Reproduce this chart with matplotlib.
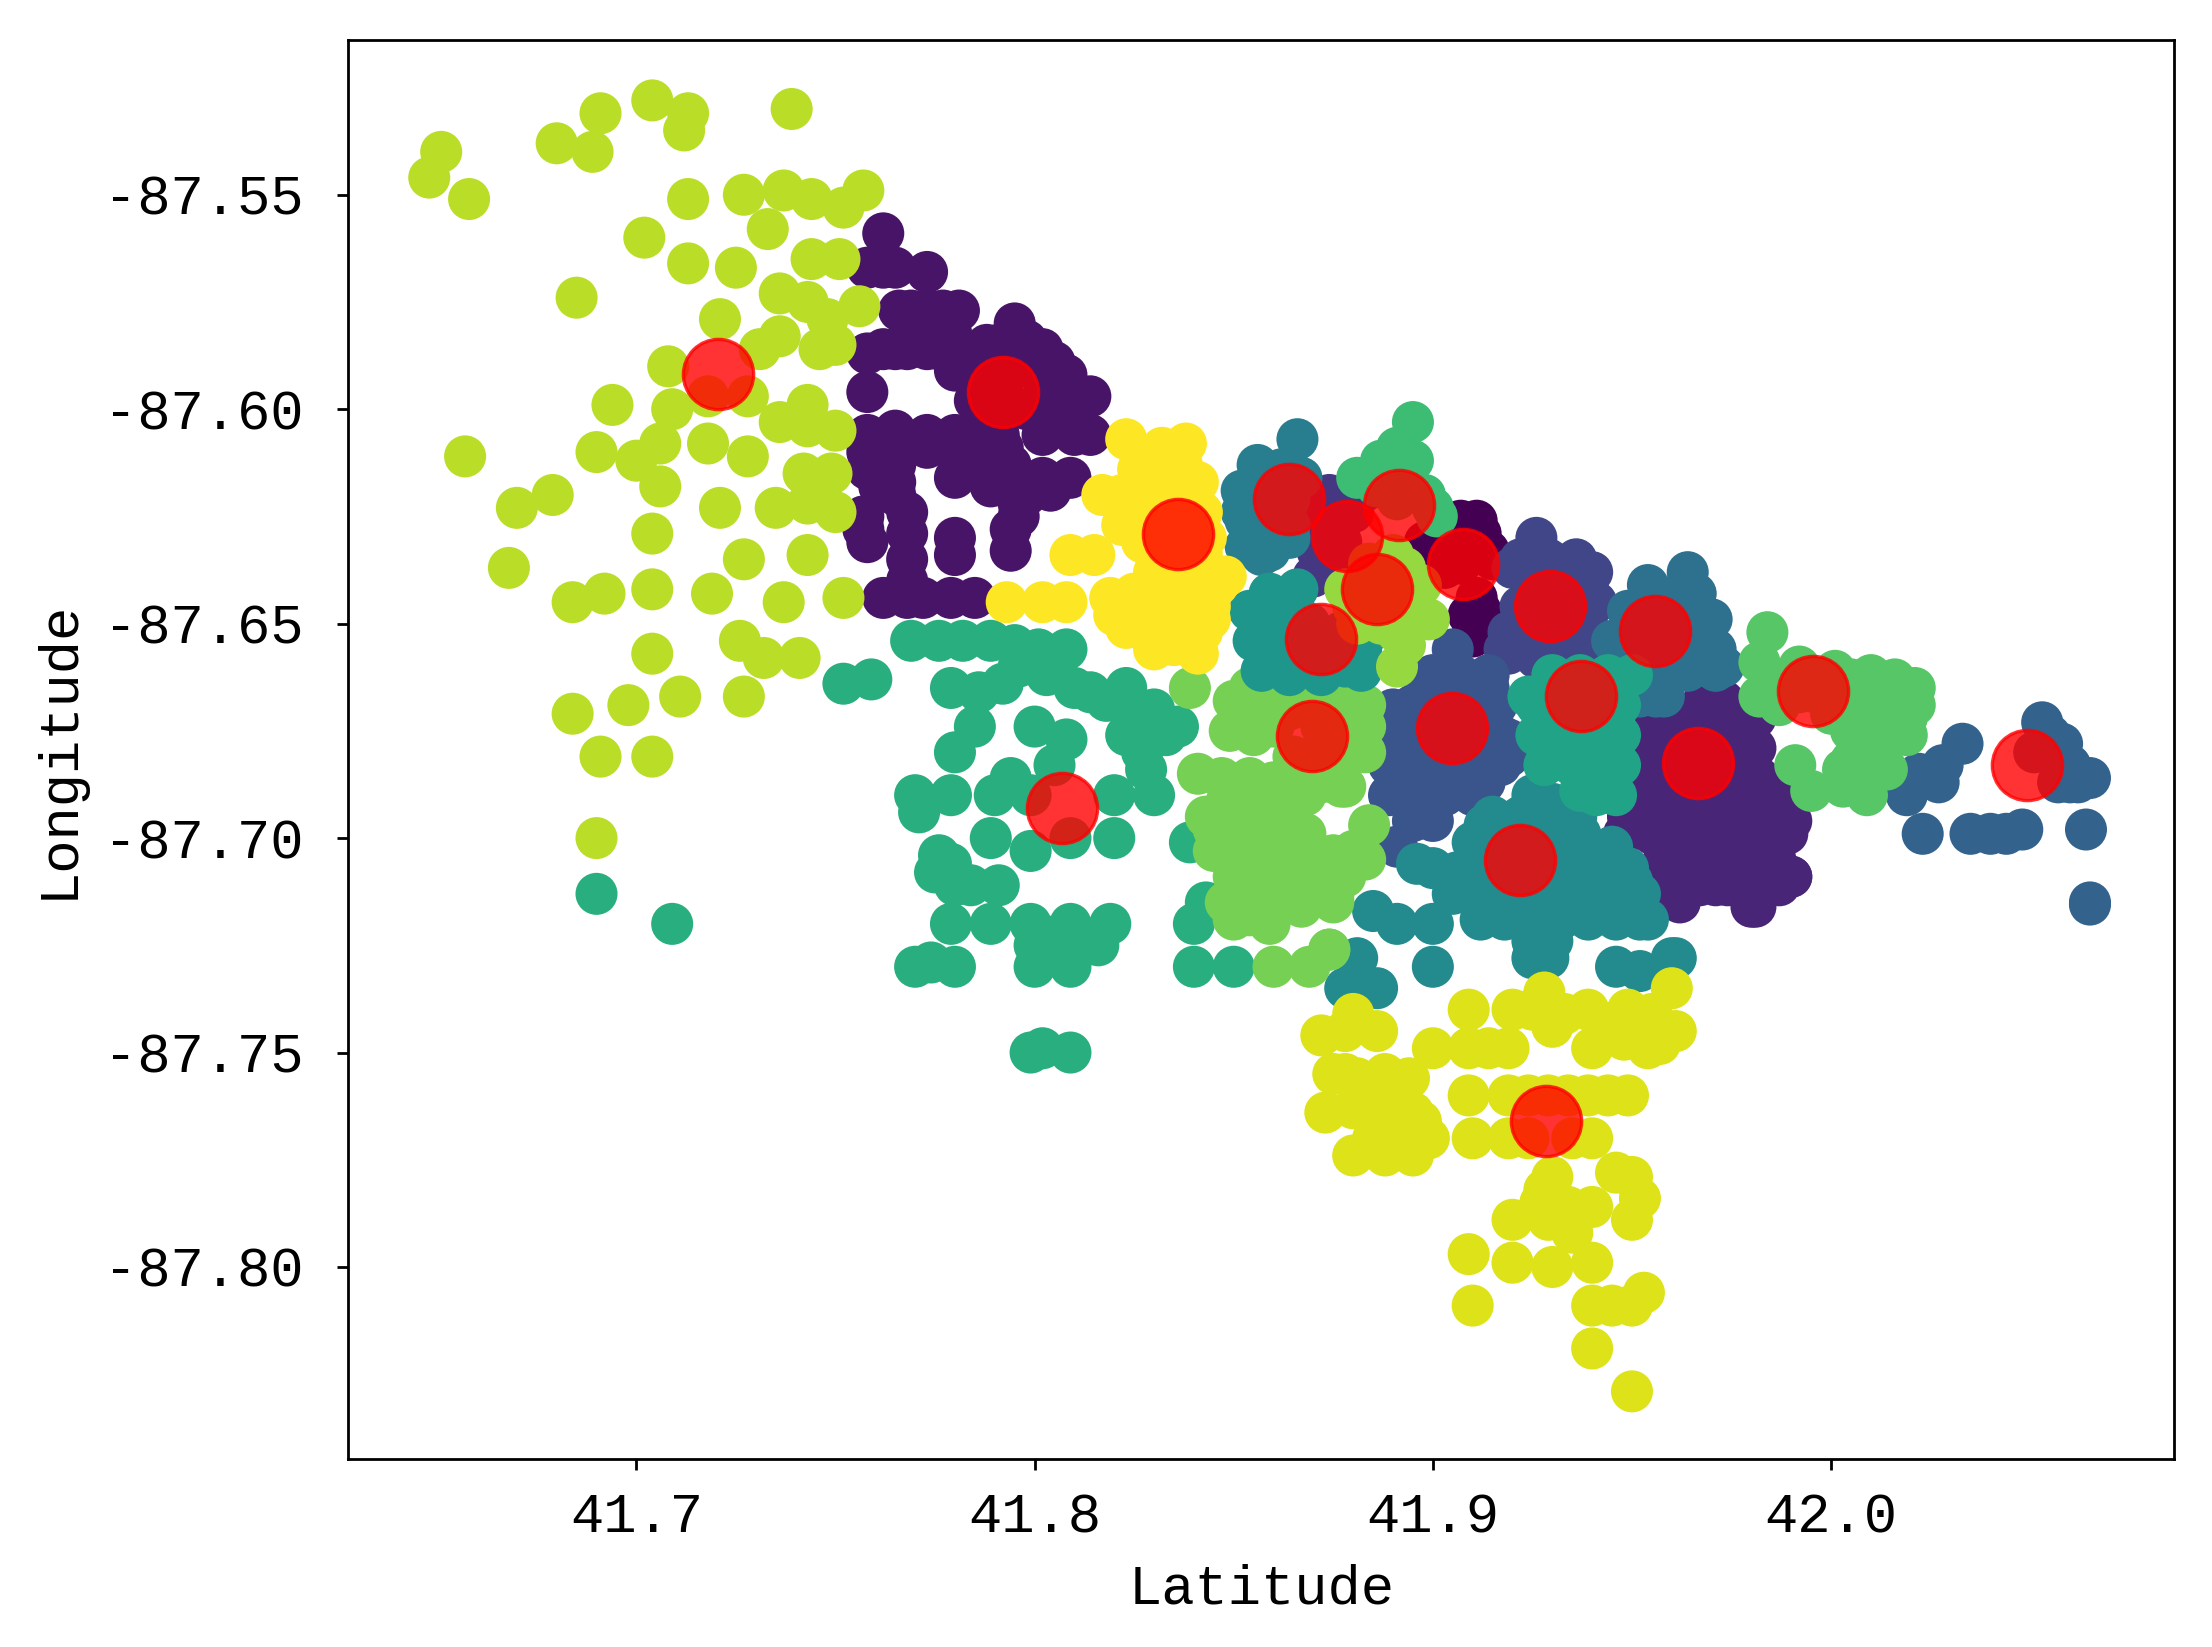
import matplotlib
matplotlib.use('Agg')
import matplotlib.pyplot as plt
import numpy as np

# every cluster is a list of (latitude, longitude)
c0 = [(41.911,-87.626),(41.907,-87.626),(41.898,-87.631),(41.914,-87.633),(41.907,-87.636),(41.910,-87.650),(41.910,-87.653),(41.909,-87.648),
      (41.905,-87.631),(41.912,-87.629),(41.915,-87.635),(41.903,-87.637),(41.911,-87.644),(41.911,-87.650),(41.912,-87.647)]
c1 = [(41.762,-87.559),(41.758,-87.567),(41.765,-87.567),(41.773,-87.568),(41.766,-87.577),(41.773,-87.577),(41.781,-87.577),
      (41.758,-87.587),(41.765,-87.586),(41.773,-87.586),(41.780,-87.586),(41.780,-87.591),(41.795,-87.580),(41.788,-87.585),
      (41.795,-87.586),(41.802,-87.586),(41.808,-87.592),(41.814,-87.597),(41.802,-87.593),(41.808,-87.599),(41.788,-87.592),
      (41.792,-87.596),(41.758,-87.596),(41.758,-87.606),(41.765,-87.605),(41.773,-87.606),(41.780,-87.606),(41.786,-87.604),
      (41.791,-87.606),(41.803,-87.602),(41.802,-87.606),(41.810,-87.606),(41.814,-87.606),(41.758,-87.614),(41.765,-87.613),
      (41.780,-87.616),(41.786,-87.613),(41.794,-87.613),(41.802,-87.616),(41.809,-87.616),(41.795,-87.618),(41.765,-87.620),
      (41.757,-87.625),(41.768,-87.629),(41.758,-87.631),(41.780,-87.630),(41.780,-87.634),(41.768,-87.635),(41.796,-87.625),
      (41.794,-87.633),(41.762,-87.644),(41.768,-87.644),(41.779,-87.644),(41.785,-87.644),
      (41.762,-87.567),(41.769,-87.577),(41.777,-87.577),(41.779,-87.582),(41.770,-87.582),(41.762,-87.586),(41.768,-87.586),
      (41.776,-87.586),(41.784,-87.588),(41.791,-87.585),(41.798,-87.590),(41.805,-87.589),(41.798,-87.584),(41.811,-87.598),
      (41.785,-87.598),(41.805,-87.597),(41.811,-87.604),(41.805,-87.603),(41.798,-87.600),(41.791,-87.602),(41.786,-87.609),
      (41.780,-87.610),(41.773,-87.609),(41.765,-87.609),(41.758,-87.610),(41.761,-87.618),(41.765,-87.617),(41.781,-87.612),
      (41.792,-87.609),(41.789,-87.618),(41.798,-87.620),(41.804,-87.619),(41.796,-87.622),(41.794,-87.628),(41.768,-87.624),
      (41.757,-87.628),(41.768,-87.640),(41.772,-87.644)]
c2 = [(41.968,-87.668),(41.973,-87.668),(41.955,-87.677),(41.966,-87.678),(41.979,-87.678),(41.956,-87.685),(41.966,-87.683),
      (41.980,-87.685),(41.949,-87.695),(41.958,-87.695),(41.970,-87.695),(41.981,-87.695),(41.988,-87.697),(41.961,-87.706),
      (41.971,-87.706),(41.981,-87.710),(41.990,-87.709),(41.962,-87.715),(41.980,-87.716),(41.950,-87.690),(41.988,-87.689),
      (41.980,-87.678),(41.990,-87.696),(41.990,-87.709),(41.981,-87.716),(41.971,-87.711),(41.971,-87.667),
      (41.956,-87.672),(41.963,-87.672),(41.970,-87.672),(41.977,-87.672),(41.981,-87.672),(41.956,-87.679),(41.963,-87.679),
      (41.970,-87.679),(41.977,-87.679),(41.981,-87.679),(41.963,-87.686),(41.970,-87.686),(41.977,-87.686),(41.982,-87.686),
      (41.950,-87.692),(41.957,-87.692),(41.964,-87.692),(41.971,-87.692),(41.978,-87.692),(41.985,-87.692),(41.948,-87.699),
      (41.955,-87.699),(41.962,-87.699),(41.969,-87.699),(41.976,-87.699),(41.983,-87.699),(41.989,-87.699),(41.958,-87.705),
      (41.965,-87.705),(41.972,-87.705),(41.979,-87.705),(41.986,-87.705),(41.960,-87.711),(41.967,-87.711),(41.974,-87.711),
      (41.981,-87.711),(41.987,-87.711)]
c3 = [(41.874,-87.620),(41.870,-87.639),(41.871,-87.633),(41.880,-87.624),(41.877,-87.631),(41.878,-87.620),(41.870,-87.631),
      (41.876,-87.626),(41.872,-87.626),(41.883,-87.619),(41.874,-87.636)]
c4 = [(41.926,-87.630),(41.920,-87.637),(41.934,-87.637),(41.940,-87.638),(41.922,-87.646),(41.929,-87.646),(41.939,-87.646),
      (41.919,-87.652),(41.926,-87.658),(41.939,-87.651),(41.934,-87.652),(41.918,-87.656),
      (41.922,-87.635),(41.929,-87.635),(41.936,-87.635),(41.925,-87.640),(41.932,-87.640),(41.939,-87.640),(41.936,-87.645),
      (41.941,-87.645),(41.926,-87.651),(41.933,-87.651),(41.919,-87.657),(41.933,-87.657),(41.938,-87.657)]
c5 = [(41.907,-87.667),(41.914,-87.665),(41.898,-87.665),(41.890,-87.670),(41.905,-87.675),(41.914,-87.670),(41.919,-87.677),
      (41.893,-87.677),(41.891,-87.688),(41.902,-87.685),(41.913,-87.687),(41.919,-87.681),(41.900,-87.696),(41.891,-87.702),
      (41.895,-87.696),(41.905,-87.656),
      (41.900,-87.662),(41.907,-87.662),(41.914,-87.662),(41.895,-87.669),(41.902,-87.669),(41.909,-87.669),(41.916,-87.669),
      (41.889,-87.676),(41.896,-87.676),(41.903,-87.676),(41.910,-87.676),(41.917,-87.676),(41.889,-87.683),(41.896,-87.683),
      (41.903,-87.683),(41.910,-87.683),(41.917,-87.683),(41.889,-87.690),(41.896,-87.690),(41.903,-87.690),(41.910,-87.690)]
c6 = [(42.033,-87.678),(42.028,-87.683),(42.022,-87.685),(42.019,-87.690),(42.053,-87.673),(42.058,-87.678),(42.051,-87.680),
      (42.065,-87.686),(42.057,-87.687),(42.023,-87.699),(42.035,-87.699),(42.040,-87.699),(42.048,-87.698),(42.064,-87.698),
      (42.065,-87.715),(42.065,-87.7155),(42.027,-87.687),(42.060,-87.683),(42.062,-87.687),(42.044,-87.699),(42.055,-87.676),(42.060,-87.687)]
c7 = [(41.964,-87.638),(41.954,-87.641),(41.949,-87.647),(41.965,-87.647),(41.970,-87.649),(41.971,-87.656),(41.973,-87.660),
      (41.956,-87.652),(41.947,-87.655),(41.956,-87.667),(41.955,-87.663),(41.962,-87.661),
      (41.955,-87.643),(41.962,-87.643),(41.966,-87.643),(41.950,-87.649),(41.957,-87.649),(41.964,-87.649),(41.948,-87.655),
      (41.955,-87.655),(41.962,-87.655),(41.969,-87.655),(41.957,-87.661),(41.964,-87.661),(41.971,-87.661),(41.952,-87.667),
      (41.958,-87.667),(41.945,-87.654)]
c8 = [(41.866,-87.607),(41.856,-87.613),(41.867,-87.616),(41.852,-87.619),(41.859,-87.619),(41.853,-87.626),(41.864,-87.621),
      (41.853,-87.632),(41.857,-87.634),(41.861,-87.629),(41.862,-87.614),(41.857,-87.622),(41.852,-87.624),(41.858,-87.627),
      (41.864,-87.627),(41.854,-87.630),(41.859,-87.633),(41.864,-87.630)]
c9 = [(41.925,-87.690),(41.930,-87.692),(41.913,-87.697),(41.924,-87.699),(41.937,-87.699),(41.945,-87.702),(41.896,-87.706),
      (41.906,-87.708),(41.923,-87.705),(41.935,-87.708),(41.950,-87.710),(41.912,-87.715),(41.925,-87.715),(41.945,-87.715),
      (41.954,-87.719),(41.885,-87.717),(41.891,-87.720),(41.900,-87.720),(41.881,-87.728),(41.878,-87.735),(41.886,-87.735),
      (41.900,-87.730),(41.925,-87.728),(41.929,-87.728),(41.946,-87.730),(41.952,-87.731),(41.960,-87.728),(41.961,-87.728),
      (41.915,-87.695),(41.922,-87.695),(41.929,-87.695),(41.936,-87.695),(41.910,-87.701),(41.917,-87.701),(41.931,-87.701),
      (41.938,-87.701),(41.900,-87.707),(41.914,-87.707),(41.921,-87.707),(41.928,-87.707),(41.942,-87.707),(41.949,-87.707),
      (41.905,-87.713),(41.919,-87.713),(41.933,-87.713),(41.940,-87.713),(41.947,-87.713),(41.952,-87.713),(41.912,-87.719),
      (41.918,-87.719),(41.925,-87.719),(41.932,-87.719),(41.939,-87.719),(41.946,-87.719),(41.952,-87.719),(41.925,-87.724),
      (41.930,-87.724)]
c10 = [(41.859,-87.643),(41.854,-87.647),(41.863,-87.647),(41.855,-87.654),(41.863,-87.652),(41.872,-87.654),(41.858,-87.660),
       (41.872,-87.660),(41.857,-87.661),(41.872,-87.662),(41.882,-87.656),(41.878,-87.660),(41.864,-87.651),
       (41.866,-87.642),(41.866,-87.648),(41.859,-87.650),(41.869,-87.650),(41.877,-87.652),(41.860,-87.656),(41.866,-87.658),
       (41.878,-87.655),(41.884,-87.652),(41.864,-87.662),(41.882,-87.661)]
c11 = [(41.937,-87.662),(41.948,-87.663),(41.924,-87.667),(41.933,-87.669),(41.945,-87.673),(41.929,-87.677),(41.945,-87.681),
       (41.931,-87.681),(41.937,-87.689),(41.945,-87.685),
       (41.930,-87.662),(41.944,-87.662),(41.950,-87.662),(41.926,-87.669),(41.940,-87.669),(41.947,-87.669),(41.926,-87.676),
       (41.933,-87.676),(41.940,-87.676),(41.947,-87.676),(41.928,-87.683),(41.935,-87.683),(41.942,-87.683),(41.947,-87.683),
       (41.941,-87.690),(41.946,-87.690)]
c12 = [(41.769,-87.654),(41.776,-87.654),(41.782,-87.654),(41.789,-87.654),(41.795,-87.655),(41.801,-87.656),(41.808,-87.656),
       (41.803,-87.662),(41.810,-87.665),(41.814,-87.666),(41.823,-87.665),(41.830,-87.670),(41.779,-87.665),(41.786,-87.666),
       (41.792,-87.664),(41.785,-87.674),(41.780,-87.680),(41.800,-87.674),(41.808,-87.677),(41.823,-87.676),(41.833,-87.676),
       (41.827,-87.680),(41.805,-87.683),(41.794,-87.686),(41.770,-87.690),(41.771,-87.694),(41.779,-87.690),(41.790,-87.690),
       (41.799,-87.690),(41.820,-87.690),(41.830,-87.690),(41.789,-87.700),(41.799,-87.703),(41.809,-87.700),(41.820,-87.700),
       (41.839,-87.701),(41.779,-87.706),(41.775,-87.708),(41.780,-87.711),(41.791,-87.711),(41.779,-87.720),(41.789,-87.720),
       (41.799,-87.720),(41.809,-87.720),(41.819,-87.720),(41.816,-87.725),(41.800,-87.730),(41.809,-87.730),(41.770,-87.730),
       (41.774,-87.729),(41.780,-87.730),(41.840,-87.720),(41.840,-87.730),(41.850,-87.730),(41.843,-87.715),(41.809,-87.750),
       (41.799,-87.750),(41.802,-87.749),(41.804,-87.723),(41.752,-87.664),(41.759,-87.663),(41.690,-87.713),(41.709,-87.720),
       (41.826,-87.671),(41.836,-87.674),(41.828,-87.684),(41.796,-87.660),(41.818,-87.668),(41.800,-87.725),(41.810,-87.726),
       (41.812,-87.723),(41.784,-87.711),(41.776,-87.704)]
c13 = [(41.895,-87.603),(41.891,-87.609),(41.887,-87.612),(41.881,-87.616),(41.892,-87.616),(41.900,-87.623),(41.891,-87.621),
       (41.886,-87.618),(41.895,-87.612),(41.898,-87.620),(41.901,-87.625),(41.884,-87.616)]
c14 = [(41.984,-87.652),(41.982,-87.659),(41.992,-87.660),(42.001,-87.661),(42.010,-87.662),(42.021,-87.665),(41.982,-87.667),
       (41.992,-87.666),(42.002,-87.667),(42.011,-87.668),(42.021,-87.669),(42.019,-87.672),(41.996,-87.666),(42.005,-87.675),
       (42.014,-87.674),(42.019,-87.676),(41.991,-87.683),(41.995,-87.689),(42.003,-87.688),(42.009,-87.690),(42.010,-87.682),
       (42.005,-87.682),(41.987,-87.663),(41.997,-87.663),(42.005,-87.663),(42.016,-87.663),(41.987,-87.669),(42.000,-87.671),
       (42.007,-87.671),(42.014,-87.671),(42.008,-87.677),(42.014,-87.677),(42.003,-87.684),(42.014,-87.684)]
c15 = [(41.839,-87.665),(41.849,-87.675),(41.855,-87.676),(41.841,-87.685),(41.847,-87.686),(41.854,-87.686),(41.843,-87.695),
       (41.852,-87.695),(41.860,-87.695),(41.868,-87.690),(41.868,-87.699),(41.877,-87.688),(41.849,-87.704),(41.858,-87.704),
       (41.867,-87.705),(41.875,-87.704),(41.848,-87.715),(41.859,-87.715),(41.875,-87.715),(41.850,-87.719),(41.859,-87.720),
       (41.860,-87.730),(41.869,-87.730),(41.874,-87.726),(41.854,-87.665),(41.864,-87.667),(41.873,-87.667),(41.883,-87.669),
       (41.883,-87.680),(41.870,-87.665),(41.864,-87.670),(41.878,-87.688),(41.884,-87.697),(41.873,-87.706),(41.883,-87.705),
       (41.875,-87.714),(41.867,-87.716),(41.874,-87.726),
       (41.850,-87.668),(41.857,-87.668),(41.880,-87.668),(41.860,-87.674),(41.872,-87.674),(41.878,-87.674),(41.883,-87.674),
       (41.865,-87.681),(41.872,-87.681),(41.878,-87.681),(41.860,-87.687),(41.866,-87.687),(41.872,-87.687),(41.848,-87.692),
       (41.856,-87.692),(41.864,-87.692),(41.845,-87.698),(41.852,-87.698),(41.859,-87.698),(41.845,-87.703),(41.852,-87.703),
       (41.864,-87.703),(41.880,-87.703),(41.850,-87.709),(41.857,-87.709),(41.864,-87.709),(41.871,-87.709),(41.878,-87.709),
       (41.852,-87.714),(41.864,-87.714),(41.854,-87.718)]
c16 = [(41.890,-87.634),(41.897,-87.641),(41.899,-87.649),(41.891,-87.652),(41.881,-87.650),(41.878,-87.642),(41.891,-87.660),(41.886,-87.643),
       (41.884,-87.636),(41.893,-87.637),(41.884,-87.649),(41.895,-87.645),(41.887,-87.650),(41.893,-87.655),(41.880,-87.646)]
c17 = [(41.651,-87.540),(41.648,-87.546),(41.658,-87.551),(41.680,-87.538),(41.691,-87.531),(41.689,-87.540),(41.704,-87.528),
       (41.713,-87.531),(41.712,-87.535),(41.739,-87.530),(41.713,-87.551),(41.727,-87.550),(41.737,-87.549),(41.744,-87.551),
       (41.752,-87.553),(41.757,-87.549),(41.733,-87.558),(41.702,-87.560),(41.713,-87.566),(41.725,-87.567),(41.744,-87.565),
       (41.751,-87.565),(41.685,-87.574),(41.736,-87.573),(41.743,-87.575),(41.756,-87.576),(41.721,-87.579),(41.736,-87.583),
       (41.731,-87.586),(41.748,-87.579),(41.746,-87.586),(41.750,-87.585),(41.708,-87.590),(41.728,-87.597),(41.718,-87.597),
       (41.694,-87.599),(41.709,-87.600),(41.736,-87.603),(41.743,-87.599),(41.743,-87.604),(41.750,-87.605),(41.657,-87.611),
       (41.690,-87.610),(41.700,-87.612),(41.706,-87.608),(41.706,-87.618),(41.718,-87.608),(41.728,-87.611),(41.742,-87.615),
       (41.749,-87.615),(41.735,-87.623),(41.743,-87.622),(41.750,-87.624),(41.721,-87.623),(41.670,-87.623),(41.679,-87.620),
       (41.704,-87.629),(41.727,-87.635),(41.743,-87.634),(41.668,-87.637),(41.684,-87.645),(41.692,-87.643),(41.704,-87.642),
       (41.719,-87.643),(41.737,-87.645),(41.752,-87.644),(41.704,-87.657),(41.726,-87.654),(41.732,-87.658),(41.741,-87.658),
       (41.684,-87.671),(41.698,-87.669),(41.711,-87.667),(41.727,-87.667),(41.691,-87.681),(41.704,-87.681),(41.690,-87.700)]
c18 = [(41.880,-87.741),(41.872,-87.746),(41.886,-87.745),(41.875,-87.755),(41.881,-87.756),(41.888,-87.755),(41.894,-87.756),
       (41.900,-87.749),(41.873,-87.764),(41.880,-87.763),(41.888,-87.765),(41.895,-87.764),(41.899,-87.770),(41.880,-87.774),
       (41.888,-87.774),(41.895,-87.774),(41.909,-87.740),(41.920,-87.740),(41.928,-87.736),(41.930,-87.744),(41.939,-87.740),
       (41.949,-87.740),(41.960,-87.735),(41.961,-87.745),(41.952,-87.745),(41.954,-87.749),(41.940,-87.749),(41.909,-87.749),
       (41.919,-87.749),(41.909,-87.760),(41.919,-87.760),(41.929,-87.760),(41.939,-87.760),(41.949,-87.760),(41.910,-87.770),
       (41.919,-87.770),(41.940,-87.770),(41.930,-87.779),(41.946,-87.778),(41.950,-87.779),(41.927,-87.785),(41.952,-87.784),
       (41.920,-87.789),(41.929,-87.789),(41.940,-87.786),(41.950,-87.789),(41.909,-87.797),(41.920,-87.799),(41.930,-87.800),
       (41.940,-87.799),(41.940,-87.809),(41.950,-87.809),(41.953,-87.806),(41.910,-87.809),(41.940,-87.819),(41.950,-87.829),
       (41.945,-87.743),(41.955,-87.741),(41.948,-87.747),(41.957,-87.748),(41.878,-87.755),(41.885,-87.760),(41.892,-87.760),
       (41.897,-87.766),(41.892,-87.770),(41.885,-87.770),(41.878,-87.745),(41.933,-87.741),(41.925,-87.740),(41.914,-87.749),
       (41.924,-87.760),(41.934,-87.760),(41.944,-87.760),(41.924,-87.770),(41.935,-87.770),(41.928,-87.782),(41.934,-87.786),
       (41.935,-87.792),(41.945,-87.809)]
c19 = [(41.823,-87.607),(41.832,-87.609),(41.838,-87.608),(41.841,-87.617),(41.832,-87.617),(41.822,-87.620),(41.817,-87.620),
       (41.822,-87.627),(41.831,-87.626),(41.836,-87.629),(41.842,-87.624),(41.831,-87.634),(41.842,-87.634),(41.848,-87.639),
       (41.809,-87.634),(41.815,-87.634),(41.819,-87.644),(41.825,-87.643),(41.832,-87.643),(41.839,-87.643),(41.844,-87.646),
       (41.793,-87.645),(41.802,-87.645),(41.808,-87.645),(41.823,-87.651),(41.830,-87.656),(41.841,-87.657),(41.835,-87.651),
       (41.844,-87.649),(41.826,-87.614),(41.837,-87.613),(41.826,-87.622),(41.838,-87.620),(41.827,-87.631),(41.843,-87.630),
       (41.837,-87.637),(41.830,-87.638),(41.846,-87.641),(41.828,-87.648),(41.836,-87.646),(41.842,-87.652),(41.820,-87.648),
       (41.835,-87.655),(41.836,-87.640)]
clusters = [c0, c1, c2, c3, c4, c5, c6, c7, c8, c9, c10, c11, c12, c13, c14, c15, c16, c17, c18, c19]

# the teal cluster 10 lies over the light green 15 in the picture
draw_order = [0, 1, 2, 3, 4, 5, 6, 7, 8, 9, 12, 13, 14, 15, 10, 11, 16, 17, 18, 19]

center_lat = [41.9076, 41.792, 41.9667, 41.8785, 41.9295, 41.9047, 42.0493, 41.9558, 41.864, 41.922,
              41.872, 41.9373, 41.807, 41.8916, 41.9954, 41.8697, 41.886, 41.7205, 41.9285, 41.836]
center_lon = [-87.636, -87.596, -87.6826, -87.6296, -87.646, -87.6743, -87.6829, -87.6516, -87.621, -87.705,
              -87.6536, -87.6668, -87.693, -87.6224, -87.6658, -87.6763, -87.642, -87.5918, -87.766, -87.629]

x_ticks = [41.7, 41.8, 41.9, 42.0]
y_ticks = [-87.55, -87.60, -87.65, -87.70, -87.75, -87.80]

points = np.concatenate([np.array(clusters[i]) for i in draw_order])
labels = np.concatenate([np.full(len(clusters[i]), i) for i in draw_order])

plt.rcParams['font.family'] = ['Liberation Mono', 'DejaVu Sans Mono']
plt.rcParams['axes.unicode_minus'] = False

fig = plt.figure(figsize=(2212 / 200, 1647 / 200), dpi=200)
ax = fig.add_axes([348.4 / 2212, 1 - 1458.7 / 1647, (2174 - 348.4) / 2212, (1458.7 - 39.5) / 1647])

ax.scatter(points[:, 0], points[:, 1], c=labels, cmap='viridis', vmin=0, vmax=19, s=229, linewidths=0)
ax.scatter(center_lat, center_lon, c='red', s=640, alpha=0.8, linewidths=1.2)

ax.set_xlim(41.6277, 42.0861)
ax.set_ylim(-87.8447, -87.5138)
ax.set_xticks(x_ticks)
ax.set_xticklabels(['%.1f' % t for t in x_ticks])
ax.set_yticks(y_ticks)
ax.set_yticklabels(['%.2f' % t for t in y_ticks])
ax.tick_params(labelsize=20, length=4, width=1)
ax.tick_params(axis='x', pad=8)
ax.tick_params(axis='y', pad=12)
ax.set_xlabel('Latitude', fontsize=20, labelpad=7)
ax.set_ylabel('Longitude', fontsize=20, labelpad=7)
for s in ax.spines.values():
    s.set_linewidth(1)

fig.savefig('out.png', dpi=200)
